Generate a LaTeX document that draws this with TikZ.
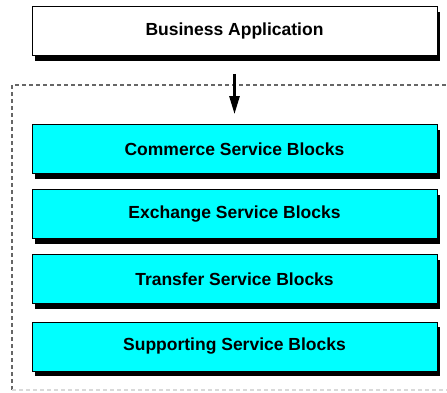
\documentclass[tikz,border=0pt]{standalone}
\usepackage{fontspec}
\setmainfont{Liberation Sans}
\usetikzlibrary{arrows.meta,shadows}
\definecolor{layercyan}{RGB}{0,255,255}

\begin{document}
\begin{tikzpicture}[
  x=1pt, y=-1pt,
  block/.style={draw, line width=0.8pt, fill=#1, minimum width=405pt, minimum height=49pt,
    inner sep=0pt, font=\fontsize{17.5}{19}\selectfont\bfseries,
    drop shadow={shadow xshift=3pt, shadow yshift=-5pt, opacity=1, fill=black}},
  frame/.style={dash pattern=on 4pt off 3pt, line width=1.1pt},
  >={Triangle[length=18pt,width=10pt]}
]
\useasboundingbox (0,0) rectangle (447,392);

% Application on top
\node[block=white] (app) at (234.5,31) {Business Application};

% Dashed frame round the service layers
\draw[frame, gray!80!black] (12,390) -- (12,85) -- (452,85);
\draw[frame, gray!30] (12,390) -- (452,390);

% Service layers
\node[block=layercyan] (commerce) at (234.5,149) {Commerce Service Blocks};
\node[block=layercyan] (exchange) at (234.5,214) {Exchange Service Blocks};
\node[block=layercyan] (transfer) at (234.5,279) {Transfer Service Blocks};
\node[block=layercyan] (support) at (234.5,346.5) {Supporting Service Blocks};

% Call into the layers
\draw[->, line width=2.6pt, shorten <=18pt, shorten >=10pt] (app.south) -- (commerce.north);

\end{tikzpicture}
\end{document}
